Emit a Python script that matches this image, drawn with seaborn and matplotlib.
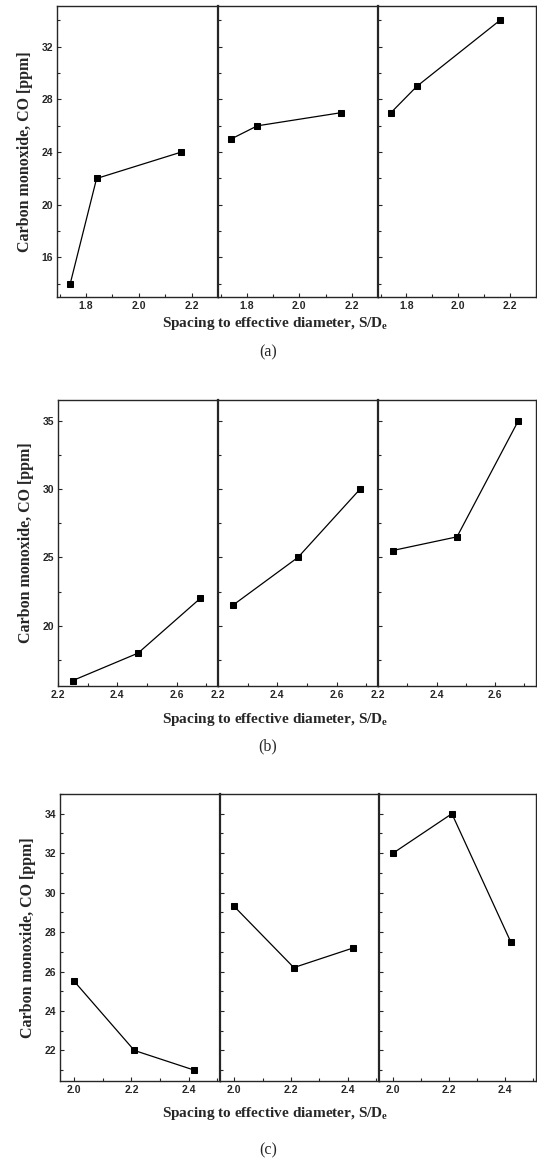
import numpy as np
import pandas as pd
import matplotlib
matplotlib.use("Agg")
import matplotlib.pyplot as plt
from matplotlib.ticker import MultipleLocator
import seaborn as sns

# data
x_a = [1.74, 1.84, 2.16]
co_a1 = [14, 22, 24]
co_a2 = [25, 26, 27]
co_a3 = [27, 29, 34]

x_b = [2.25, 2.47, 2.68]
co_b1 = [16, 18, 22]
co_b2 = [21.5, 25, 30]
co_b3 = [25.5, 26.5, 35]

x_c = [2.0, 2.21, 2.42]
co_c1 = [25.5, 22, 21]
co_c2 = [29.3, 26.2, 27.2]
co_c3 = [32, 34, 27.5]

panel_labels = ["(a)", "(b)", "(c)"]
ylabel = "Carbon monoxide, CO [ppm]"
xlabel = r"Spacing to effective diameter, S/D$_\mathbf{e}$"

sns.set_style("ticks")
plt.rcParams["font.family"] = ["Liberation Sans", "DejaVu Sans"]
plt.rcParams["mathtext.fontset"] = "custom"
plt.rcParams["mathtext.bf"] = "Liberation Serif:bold"
plt.rcParams["mathtext.rm"] = "Liberation Serif"

W, H = 537, 1169
fig = plt.figure(figsize=(W / 100, H / 100), dpi=100)


def box(x0, x1, y0, y1):
    # pixel box -> figure fraction
    return [x0 / W, 1 - y1 / H, (x1 - x0) / W, (y1 - y0) / H]


panels = [
    dict(x=x_a, ys=[co_a1, co_a2, co_a3], xlim=(1.69, 2.30), ylim=(13.0, 35.1),
         yticks=[16, 20, 24, 28, 32], ymin=2, xticks=[1.8, 2.0, 2.2],
         edges=[57, 218, 378, 536], top=6, bottom=297, xl=323, pl=352),
    dict(x=x_b, ys=[co_b1, co_b2, co_b3], xlim=(2.2, 2.74), ylim=(15.6, 36.5),
         yticks=[20, 25, 30, 35], ymin=2.5, xticks=[2.2, 2.4, 2.6],
         edges=[58, 218, 378, 536], top=400, bottom=686, xl=719, pl=746),
    dict(x=x_c, ys=[co_c1, co_c2, co_c3], xlim=(1.95, 2.51), ylim=(20.45, 35.0),
         yticks=[22, 24, 26, 28, 30, 32, 34], ymin=1, xticks=[2.0, 2.2, 2.4],
         edges=[60, 220, 379, 536], top=794, bottom=1081, xl=1114, pl=1150),
]

for k, p in enumerate(panels):
    for i in range(3):
        ax = fig.add_axes(box(p["edges"][i], p["edges"][i + 1], p["top"], p["bottom"]))
        df = pd.DataFrame({"sd": p["x"], "co": p["ys"][i]})
        sns.lineplot(data=df, x="sd", y="co", ax=ax, color="black", lw=0.9,
                     marker="s", markersize=5, markeredgecolor="black")
        ax.set_xlim(p["xlim"])
        ax.set_ylim(p["ylim"])
        ax.set_xticks(p["xticks"])
        ax.xaxis.set_minor_locator(MultipleLocator(0.1))
        ax.set_yticks(p["yticks"])
        ax.yaxis.set_minor_locator(MultipleLocator(p["ymin"]))
        ax.tick_params(which="both", direction="in", length=3, width=0.8,
                       labelsize=7.5, pad=3)
        ax.tick_params(which="minor", length=2)
        for lab in ax.get_xticklabels() + ax.get_yticklabels():
            lab.set_fontweight("bold")
        for s in ax.spines.values():
            s.set_linewidth(1.0)
        ax.set_xlabel("")
        ax.set_ylabel("")
        if i > 0:
            ax.set_yticklabels([])
            ax.spines["left"].set_linewidth(1.6)
        else:
            ax.set_ylabel(ylabel, family="Liberation Serif", fontweight="bold",
                          fontsize=11.5, labelpad=6)
    fig.text(275 / W, 1 - p["xl"] / H, xlabel, family="Liberation Serif",
             fontweight="bold", fontsize=11, ha="center", va="center")
    fig.text(268 / W, 1 - p["pl"] / H, panel_labels[k], family="Liberation Serif",
             fontsize=11.5, ha="center", va="center")

fig.savefig("out.png", dpi=100)
